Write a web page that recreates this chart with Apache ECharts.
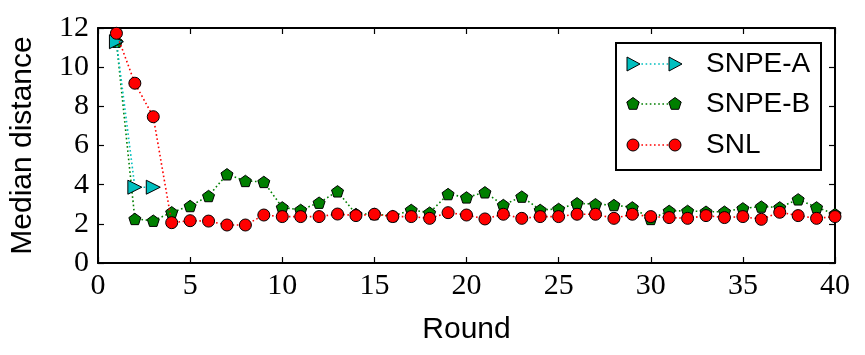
<!DOCTYPE html>
<html>
<head>
<meta charset="utf-8">
<script src="https://cdn.jsdelivr.net/npm/echarts@6/dist/echarts.min.js"></script>
<style>
  html, body { margin: 0; padding: 0; background: #fff; }
  #chart { width: 865px; height: 355px; }
</style>
</head>
<body>
<div id="chart"></div>
<script>
// rounds 1..40
var rounds = [1, 2, 3, 4, 5, 6, 7, 8, 9, 10, 11, 12, 13, 14, 15, 16, 17, 18, 19, 20,
  21, 22, 23, 24, 25, 26, 27, 28, 29, 30, 31, 32, 33, 34, 35, 36, 37, 38, 39, 40];
var snpeA = [11.3, 3.87, 3.87];
var snpeB = [11.3, 2.25, 2.16, 2.59, 2.91, 3.42, 4.53, 4.19, 4.14, 2.84,
  2.71, 3.08, 3.66, 2.5, 2.5, 2.4, 2.71, 2.57, 3.52, 3.35,
  3.61, 2.96, 3.39, 2.71, 2.76, 3.05, 3.0, 2.96, 2.84, 2.25,
  2.66, 2.66, 2.62, 2.62, 2.79, 2.88, 2.84, 3.25, 2.84, 2.5];
var snl = [11.73, 9.18, 7.47, 2.06, 2.16, 2.14, 1.94, 1.94, 2.45, 2.37,
  2.37, 2.37, 2.5, 2.42, 2.49, 2.37, 2.37, 2.28, 2.57, 2.45,
  2.25, 2.49, 2.28, 2.37, 2.37, 2.49, 2.49, 2.28, 2.49, 2.37,
  2.32, 2.28, 2.42, 2.32, 2.37, 2.23, 2.59, 2.42, 2.28, 2.37];
var xTicks = [0, 40, 5];   // min, max, step
var yTicks = [0, 12, 2];
var names = ['SNPE-A', 'SNPE-B', 'SNL'];

var pentagon = 'path://M0,-10 L9.51,-3.09 L5.88,8.09 L-5.88,8.09 L-9.51,-3.09 Z';
var serif = '"Liberation Serif", "DejaVu Serif", serif';
var sans = '"Liberation Sans", Arial, sans-serif';

function pairs(vals) {
  var res = [];
  for (var i = 0; i < vals.length; i++) {
    res.push([rounds[i], vals[i]]);
  }
  return res;
}

function axisCommon(showLabel) {
  return {
    axisLine: { show: true, onZero: false, lineStyle: { color: '#000', width: 2 } },
    axisTick: { show: true, inside: true, length: 6, lineStyle: { color: '#000', width: 1.2 } },
    axisLabel: {
      show: showLabel,
      color: '#000',
      fontFamily: serif,
      fontSize: 30
    },
    splitLine: { show: false }
  };
}

var xBottom = Object.assign(axisCommon(true), {
  type: 'value', position: 'bottom',
  min: xTicks[0], max: xTicks[1], interval: xTicks[2],
  name: 'Round', nameLocation: 'middle', nameGap: 52,
  nameTextStyle: { color: '#000', fontFamily: sans, fontSize: 30 }
});
xBottom.axisLabel.margin = 8;
var xTop = Object.assign(axisCommon(false), {
  type: 'value', position: 'top',
  min: xTicks[0], max: xTicks[1], interval: xTicks[2]
});
var yLeft = Object.assign(axisCommon(true), {
  type: 'value', position: 'left',
  min: yTicks[0], max: yTicks[1], interval: yTicks[2],
  name: 'Median distance', nameLocation: 'middle', nameGap: 60,
  nameTextStyle: { color: '#000', fontFamily: sans, fontSize: 30 }
});
yLeft.axisLabel.margin = 9;
var yRight = Object.assign(axisCommon(false), {
  type: 'value', position: 'right',
  min: yTicks[0], max: yTicks[1], interval: yTicks[2]
});

function lineSeries(name, vals, color, symbol, size, rotate, z) {
  return {
    name: name,
    type: 'line',
    xAxisIndex: 0,
    yAxisIndex: 0,
    data: pairs(vals),
    symbol: symbol,
    symbolSize: size,
    symbolRotate: rotate,
    symbolKeepAspect: true,
    showAllSymbol: true,
    clip: true,
    z: z,
    lineStyle: { color: color, width: 1.6, type: [1.6, 2.6] },
    itemStyle: { color: color, borderColor: '#000', borderWidth: 1 }
  };
}

// legend box drawn by hand (two markers joined by a dotted line, like matplotlib)
var legendBox = { x: 616, y: 43, w: 205, h: 127 };
var legendRows = [64, 104, 145];
var legendColors = ['#00bfbf', '#007f00', '#ff0000'];
var legendGraphic = [{
  type: 'rect',
  shape: { x: legendBox.x, y: legendBox.y, width: legendBox.w, height: legendBox.h },
  style: { fill: '#fff', stroke: '#000', lineWidth: 2 },
  z: 100
}];
function markerShape(kind, cx, cy, color) {
  var st = { fill: color, stroke: '#000', lineWidth: 1 };
  if (kind === 0) {
    return { type: 'polygon', shape: { points: [[cx - 6, cy - 7], [cx + 7, cy], [cx - 6, cy + 7]] }, style: st, z: 102 };
  }
  if (kind === 1) {
    return { type: 'polygon', shape: { points: [[cx, cy - 6.5], [cx + 6.2, cy - 2], [cx + 3.8, cy + 5.3], [cx - 3.8, cy + 5.3], [cx - 6.2, cy - 2]] }, style: st, z: 102 };
  }
  return { type: 'circle', shape: { cx: cx, cy: cy, r: 6 }, style: st, z: 102 };
}
for (var k = 0; k < names.length; k++) {
  var yy = legendRows[k];
  legendGraphic.push({
    type: 'line',
    shape: { x1: 633, y1: yy, x2: 675, y2: yy },
    style: { stroke: legendColors[k], lineWidth: 1.6, lineDash: [1.6, 2.6] },
    z: 101
  });
  legendGraphic.push(markerShape(k, 633, yy, legendColors[k]));
  legendGraphic.push(markerShape(k, 675, yy, legendColors[k]));
  legendGraphic.push({
    type: 'text',
    x: 706, y: yy,
    style: {
      text: names[k], fill: '#000',
      font: '28px ' + sans,
      textVerticalAlign: 'middle', verticalAlign: 'middle'
    },
    z: 102
  });
}

var option = {
  backgroundColor: '#fff',
  animation: false,
  grid: { left: 92, right: 30, top: 28, bottom: 92, containLabel: false },
  xAxis: [xBottom, xTop],
  yAxis: [yLeft, yRight],
  series: [
    lineSeries(names[1], snpeB, legendColors[1], pentagon, 12, 0, 2),
    lineSeries(names[0], snpeA, legendColors[0], 'triangle', 14, -90, 3),
    lineSeries(names[2], snl, legendColors[2], 'circle', 12, 0, 4)
  ],
  graphic: legendGraphic
};

var myChart = echarts.init(document.getElementById('chart'));
myChart.setOption(option);
</script>
</body>
</html>
